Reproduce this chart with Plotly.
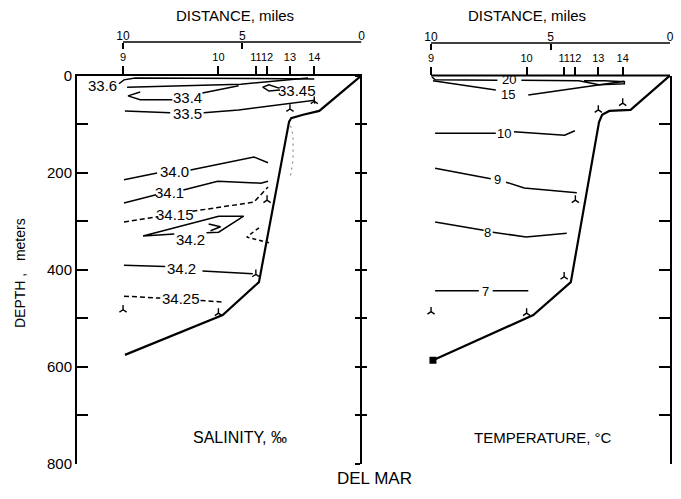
import plotly.graph_objects as go

# ---------------- data (distance in miles, depth in meters) ----------------
stations = ["9", "10", "11", "12", "13", "14"]
station_mi = [10.0, 6.0, 4.43, 3.96, 3.0, 1.98]
scale_mi = [10, 5, 0]
scale_text = ["10", "5", "0"]
depth_ticks = [0, 100, 200, 300, 400, 500, 600, 700, 800]
depth_ticktext = ["0", "", "200", "", "400", "", "600", "", "800"]

# sea-floor profiles
sal_bottom_mi = [0.0, 1.77, 2.45, 2.95, 3.04, 4.30, 5.82, 9.92]
sal_bottom_m = [0, 73, 81, 88, 96, 426, 494, 576]
tmp_bottom_mi = [0.0, 1.65, 2.54, 2.84, 2.97, 4.15, 5.72, 9.92]
tmp_bottom_m = [0, 71, 73, 81, 96, 426, 494, 587]

# deepest sample at each station
sal_sample_m = [483, 490, 410, 257, 69, 53]
tmp_sample_m = [487, 490, 415, 257, 71, 57]

# salinity isolines (None = gap for label)
s336_mi = [10.17, 9.96, 9.49, 4.64, 1.98]
s336_m = [17, 9, 5, 7, 7]
s334a_mi = [9.83, 5.06, 2.24]
s334a_m = [24, 18, 5]
s334b_mi = [9.28, 9.79, 9.28, 7.93, None, 6.67, 5.15]
s334b_m = [34, 42, 50, 50, None, 36, 21]
s3345_mi = [3.46, 3.88, 4.14, 3.88, 3.42]
s3345_m = [26, 19, 24, 32, 30]
s335_mi = [9.92, 8.02, None, 6.62, 5.15, 1.98, 1.96]
s335_m = [73, 77, None, 77, 71, 51, 58]
s340_mi = [9.96, 8.57, None, 7.17, 4.51, 3.92]
s340_m = [215, 201, None, 195, 168, 180]
s341_mi = [9.96, 8.61, None, 7.47, 6.03, 4.22, 3.92]
s341_m = [263, 246, None, 236, 218, 222, 218]
s3415_mi = [9.96, 8.52, None, 7.09, 4.51, 3.92]
s3415_m = [302, 291, None, 280, 261, 230]
s342a_mi = [6.5, 5.99, 4.94, 5.99, 9.16, 7.85]
s342a_m = [324, 323, 290, 290, 331, 327]
s342a_inner_mi = [6.41, 5.91, 6.33]
s342a_inner_m = [306, 312, 320]
s342c_mi = [4.30, 4.81, 3.88]
s342c_m = [314, 333, 345]
s342b_mi = [9.96, 8.23, None, 6.67, 4.56]
s342b_m = [391, 394, None, 403, 409]
s3425_mi = [9.96, 8.44, None, 6.75, 5.82]
s3425_m = [455, 459, None, 464, 467]
s_dotted_mi = [3.04, 2.87, 2.87, 2.99]
s_dotted_m = [92, 123, 174, 211]

sal_labels = ["33.6", "33.4", "33.45", "33.5", "34.0", "34.1", "34.15", "34.2", "34.2", "34.25"]
sal_label_mi = [10.85, 7.30, 2.72, 7.30, 7.85, 8.05, 7.80, 7.17, 7.55, 7.55]
sal_label_m = [21, 46, 30, 79, 197, 242, 286, 338, 397, 460]

# temperature isotherms
t20_mi = [9.96, 9.83, 7.22, None, 6.22, 3.81, 2.97, 1.91, 1.91, 2.75, 3.6]
t20_m = [3, 9, 10, None, 10, 11, 19, 17, 13, 11, 11]
t15_mi = [9.92, 7.29, None, 5.93, 5.38, 1.91]
t15_m = [11, 30, None, 40, 36, 12]
t10_mi = [9.83, 7.29, None, 6.53, 4.41, 3.98]
t10_m = [119, 119, None, 116, 123, 114]
t9_mi = [9.83, 7.50, None, 6.86, 6.10, 3.90]
t9_m = [191, 213, None, 220, 232, 242]
t8_mi = [9.83, 7.80, None, 7.42, 6.02, 4.32]
t8_m = [302, 319, None, 323, 333, 325]
t7_mi = [9.83, 8.0, None, 7.42, 5.93]
t7_m = [444, 444, None, 444, 444]

tmp_labels = ["20", "15", "10", "9", "8", "7"]
tmp_label_mi = [6.72, 6.78, 6.95, 7.20, 7.62, 7.72]
tmp_label_m = [8, 40, 119, 215, 323, 446]

# ---------------- layout helpers ----------------
W, H = 681, 499
TOP, BOT = 75.5, 463.5
LX0, MIDX, RX1 = 77, 361.5, 670
ydom = [1 - BOT / H, 1 - TOP / H]
FONT = "Liberation Sans, Arial, sans-serif"
K = "black"

fig = go.Figure()


def line(xs, ys, ax, dash="solid", width=1.5, color=K):
    fig.add_trace(go.Scatter(x=xs, y=ys, xaxis=ax[0], yaxis=ax[1], mode="lines",
                             line=dict(color=color, width=width, dash=dash),
                             connectgaps=False, showlegend=False, hoverinfo="skip"))


L = ("x", "y")
R = ("x2", "y2")

# salinity panel
line(s336_mi, s336_m, L)
line(s334a_mi, s334a_m, L)
line(s334b_mi, s334b_m, L)
line(s3345_mi, s3345_m, L)
line(s335_mi, s335_m, L)
line(s340_mi, s340_m, L)
line(s341_mi, s341_m, L)
line(s3415_mi, s3415_m, L, dash="5px,3px")
line(s342a_mi, s342a_m, L)
line(s342a_inner_mi, s342a_inner_m, L)
line(s342c_mi, s342c_m, L, dash="4px,3px")
line(s342b_mi, s342b_m, L)
line(s3425_mi, s3425_m, L, dash="5px,3px")
line(s_dotted_mi, s_dotted_m, L, dash="2px,4px", width=1, color="#777")
line(sal_bottom_mi, sal_bottom_m, L, width=2.2)

# temperature panel
line(t20_mi, t20_m, R)
line(t15_mi, t15_m, R)
line(t10_mi, t10_m, R)
line(t9_mi, t9_m, R)
line(t8_mi, t8_m, R)
line(t7_mi, t7_m, R)
line(tmp_bottom_mi, tmp_bottom_m, R, width=2.2)
fig.add_trace(go.Scatter(x=tmp_bottom_mi[-1:], y=tmp_bottom_m[-1:], xaxis="x2", yaxis="y2",
                         mode="markers", marker=dict(symbol="square", size=7, color=K),
                         showlegend=False, hoverinfo="skip"))

# deepest-sample markers
for ax, depths in ((L, sal_sample_m), (R, tmp_sample_m)):
    fig.add_trace(go.Scatter(x=station_mi, y=depths, xaxis=ax[0], yaxis=ax[1], mode="markers",
                             marker=dict(symbol="y-up", size=6, color=K,
                                         line=dict(color=K, width=1.4)),
                             showlegend=False, hoverinfo="skip"))

# helper traces so overlay axes are drawn
for xa, ya in (("x3", "y"), ("x4", "y2"), ("x2", "y3"), ("x2", "y4")):
    fig.add_trace(go.Scatter(x=[None], y=[None], xaxis=xa, yaxis=ya, mode="lines",
                             showlegend=False, hoverinfo="skip"))

# isoline labels
ann = []
for t, x, y in zip(sal_labels, sal_label_mi, sal_label_m):
    ann.append(dict(text=t, x=x, y=y, xref="x", yref="y", showarrow=False,
                    xanchor="center", yanchor="middle",
                    font=dict(family=FONT, size=15, color=K)))
for t, x, y in zip(tmp_labels, tmp_label_mi, tmp_label_m):
    ann.append(dict(text=t, x=x, y=y, xref="x2", yref="y2", showarrow=False,
                    xanchor="center", yanchor="middle", borderpad=0,
                    font=dict(family=FONT, size=13, color=K)))

def pann(text, px, py, size, angle=0):
    ann.append(dict(text=text, x=px / W, y=1 - py / H, xref="paper", yref="paper",
                    showarrow=False, textangle=angle, xanchor="center", yanchor="middle",
                    font=dict(family=FONT, size=size, color=K)))

pann("DISTANCE, miles", 235, 15, 15)
pann("DISTANCE, miles", 527, 15, 15)
pann("DEPTH ,   meters", 20, 273, 14, -90)
pann("SALINITY, ‰", 240, 437, 16)
pann("TEMPERATURE, °C", 543, 437, 15)
pann("DEL MAR", 375, 478, 17)

shapes = [
    dict(type="line", xref="x3", yref="paper", x0=max(scale_mi), x1=min(scale_mi),
         y0=1 - 42 / H, y1=1 - 42 / H, line=dict(color=K, width=1.5)),
    dict(type="line", xref="x4", yref="paper", x0=max(scale_mi), x1=min(scale_mi),
         y0=1 - 43 / H, y1=1 - 43 / H, line=dict(color=K, width=1.5)),
    dict(type="line", xref="x2", yref="paper", x0=max(station_mi), x1=0,
         y0=ydom[1], y1=ydom[1], line=dict(color=K, width=2)),
]

common_x = dict(showgrid=False, zeroline=False, tickcolor=K, tickwidth=1.5,
                automargin=False, tickangle=0,
                tickfont=dict(family=FONT, size=12, color=K))
station_font = dict(family=FONT, size=11, color=K)
common_y = dict(showgrid=False, zeroline=False, tickcolor=K, tickwidth=1.5,
                automargin=False,
                range=[800, 0], domain=ydom, tickvals=depth_ticks, linecolor=K)

fig.update_layout(
    width=W, height=H, margin=dict(l=0, r=0, t=0, b=0, autoexpand=False),
    paper_bgcolor="white", plot_bgcolor="white",
    showlegend=False, annotations=ann, shapes=shapes,
    xaxis=dict(domain=[LX0 / W, MIDX / W], range=[11.93, 0], anchor="y", side="top",
               showline=True, linewidth=2, linecolor=K, ticks="outside", ticklen=8,
               tickvals=station_mi, ticktext=stations,
               **{**common_x, "tickfont": station_font}),
    xaxis2=dict(domain=[MIDX / W, RX1 / W], range=[12.91, 0], anchor="y2", side="top",
                showline=False, ticks="outside", ticklen=8,
                tickvals=station_mi, ticktext=stations,
                **{**common_x, "tickfont": station_font}),
    xaxis3=dict(overlaying="x", anchor="free", position=1 - 42 / H, side="top",
                range=[11.93, 0], showline=False, ticks="inside", ticklen=6,
                tickvals=scale_mi, ticktext=scale_text, **common_x),
    xaxis4=dict(overlaying="x2", anchor="free", position=1 - 43 / H, side="top",
                range=[12.91, 0], showline=False, ticks="inside", ticklen=6,
                tickvals=scale_mi, ticktext=scale_text, **common_x),
    yaxis=dict(anchor="x", showline=True, linewidth=2, ticks="inside", ticklen=11,
               ticktext=depth_ticktext, tickfont=dict(family=FONT, size=15, color=K),
               **common_y),
    yaxis2=dict(anchor="x2", side="left", showline=True, linewidth=2, ticks="outside",
                ticklen=5, showticklabels=False, **common_y),
    yaxis3=dict(overlaying="y2", anchor="x2", side="right", showline=True, linewidth=1.5,
                ticks="inside", ticklen=11, showticklabels=False, **common_y),
    yaxis4=dict(overlaying="y2", anchor="x2", side="left", showline=False,
                ticks="inside", ticklen=5, showticklabels=False, **common_y),
)

fig.write_html("out.html", config={"displayModeBar": False},
               post_script="document.body.style.margin='0';document.body.style.padding='0';")
